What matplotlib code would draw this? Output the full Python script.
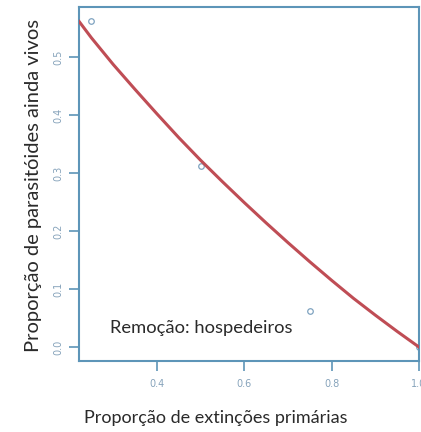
import matplotlib
matplotlib.use("Agg")
import matplotlib.pyplot as plt

# observed proportions (open circles)
obs_x = [0.25, 0.50, 0.75, 1.00]
obs_y = [0.5625, 0.3125, 0.0625, 0.0]

# fitted curve, read every 0.05 along x
fit_x = [0.222, 0.25, 0.30, 0.35, 0.40, 0.45, 0.50, 0.55, 0.60,
         0.65, 0.70, 0.75, 0.80, 0.85, 0.90, 0.95, 1.00]
fit_y = [0.561, 0.533, 0.487, 0.444, 0.402, 0.361, 0.322, 0.285, 0.249,
         0.214, 0.180, 0.147, 0.115, 0.084, 0.055, 0.027, 0.0]

xticks = [0.4, 0.6, 0.8, 1.0]
yticks = [0.0, 0.1, 0.2, 0.3, 0.4, 0.5]

AX_COL = "#5d95b8"
TICK_TXT = "#86a3bb"
TXT = "#2a2a2a"

fig = plt.figure(figsize=(4.21, 4.32), dpi=100)
ax = fig.add_axes([79/421, 71/432, 340/421, 354/432])

ax.plot(fit_x, fit_y, color="#bf4d55", lw=2.2, zorder=3, solid_joinstyle="round")
ax.plot(obs_x, obs_y, "o", ms=4, mfc="none", mec="#7fa3c0", mew=0.9, zorder=2)

ax.set_xlim(0.2217, 1.0)
ax.set_ylim(-0.024, 0.586)
ax.set_xticks(xticks)
ax.set_xticklabels([f"{v:.1f}" for v in xticks], fontsize=7)
ax.set_yticks(yticks)
ax.set_yticklabels([f"{v:.1f}" for v in yticks], fontsize=7,
                   rotation=90, va="center")
ax.tick_params(axis="both", colors=AX_COL, length=7, width=1.2, labelcolor=TICK_TXT)
ax.tick_params(axis="x", pad=6)
ax.tick_params(axis="y", pad=4)
for sp in ax.spines.values():
    sp.set_color(AX_COL)
    sp.set_linewidth(1.5)

ax.text(0.293, 0.024, "Remoção: hospedeiros", fontsize=13.2, family="Lato",
        color=TXT, va="baseline")

fig.text(34/421, 1 - 186/432, "Proporção de parasitóides ainda vivos",
         rotation=90, ha="center", va="center", fontsize=14.5, family="Lato",
         color=TXT)
fig.text(216/421, 1 - 418/432, "Proporção de extinções primárias",
         ha="center", va="center", fontsize=13, family="Lato", color=TXT)

fig.savefig("out.png", dpi=100)
